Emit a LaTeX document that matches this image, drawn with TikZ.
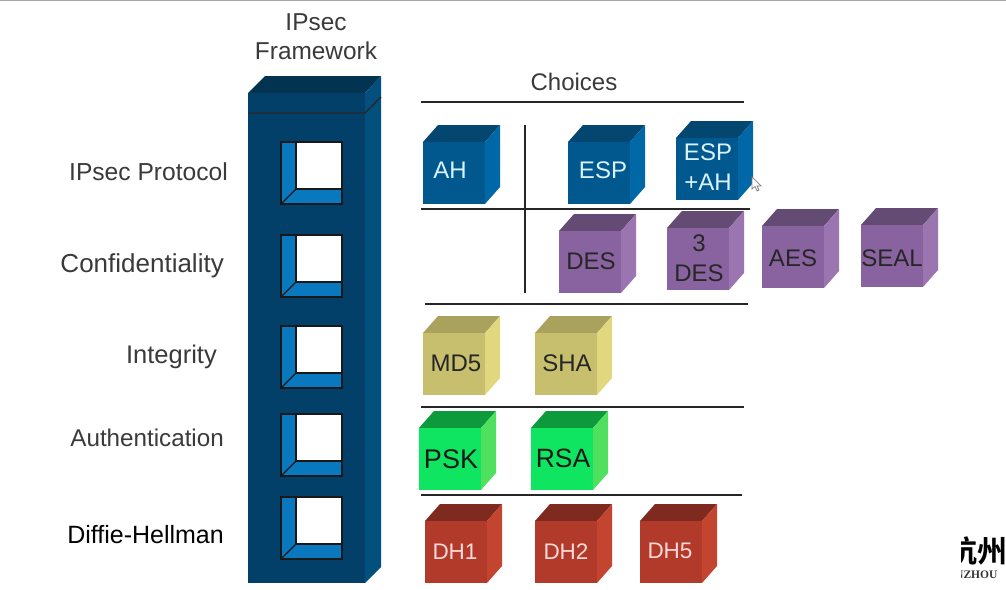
\documentclass[tikz,border=0pt]{standalone}
\usepackage{fontspec}
\setmainfont{Liberation Sans}
\newfontfamily\cjkfont{Noto Sans CJK SC}[BoldFont={Noto Sans CJK SC Bold}]
\newfontfamily\serifont{Liberation Serif}
\definecolor{colF}{HTML}{024069}
\definecolor{colT}{HTML}{023350}
\definecolor{colS}{HTML}{034F7E}
\definecolor{winB}{HTML}{0A78BE}
\definecolor{bluF}{HTML}{01588F}
\definecolor{bluT}{HTML}{03466F}
\definecolor{bluS}{HTML}{0168A8}
\definecolor{purF}{HTML}{89639F}
\definecolor{purT}{HTML}{634B73}
\definecolor{purS}{HTML}{9B75B0}
\definecolor{yelF}{HTML}{C8BF6E}
\definecolor{yelT}{HTML}{A9A25C}
\definecolor{yelS}{HTML}{E0D77F}
\definecolor{grnF}{HTML}{0FE561}
\definecolor{grnT}{HTML}{0C9A3C}
\definecolor{grnS}{HTML}{50E060}
\definecolor{redF}{HTML}{B23A2A}
\definecolor{redT}{HTML}{7E2A1E}
\definecolor{redS}{HTML}{C4452F}
\definecolor{txtG}{HTML}{3A3A3A}
\tikzset{
  x=1pt,y=-1pt,
  facebox/.style={anchor=north west,inner sep=0pt,outer sep=0pt,minimum width=62pt,minimum height=62pt},
  facetext/.style={inner sep=0pt,align=center,font=\fontsize{24}{30}\selectfont},
  rowlabel/.style={text=txtG,inner sep=0pt},
  rule/.style={draw=black!85,line width=1.4pt},
  winframe/.style={draw=black!90,line width=1.3pt},
}
% name, x, y, front fill, top fill, side fill, text colour, text, text centre
\newcommand{\cubebox}[9]{%
  \fill[#5] (#2,#3) -- ++(15,-17) -- ++(62,0) -- ++(-15,17) -- cycle;
  \fill[#6] (#2+62,#3) -- ++(15,-17) -- ++(0,62) -- ++(-15,17) -- cycle;
  \node[facebox,fill=#4] (#1) at (#2,#3) {};
  \node[facetext,text=#7] (#1t) at (#9) {#8};
}
% name, y
\newcommand{\winbox}[2]{%
  \fill[winB] (281,#2) rectangle (342,#2+62);
  \fill[white] (296,#2) rectangle (342,#2+47);
  \draw[winframe] (296,#2) -- (296,#2+47) -- (342,#2+47);
  \draw[winframe] (296,#2+47) -- (281,#2+62);
  \node[draw=black!90,line width=1.3pt,anchor=north west,inner sep=0pt,outer sep=0pt,minimum width=61pt,minimum height=62pt] (#1) at (281,#2) {};
}
\begin{document}
\begin{tikzpicture}
\useasboundingbox (0,0) rectangle (1006,589);
\fill[white] (0,0) rectangle (1006,589);
\draw[black!35,line width=.8pt] (0,0.4) -- (1006,0.4);

% Framework column
\fill[colT] (248,93) -- (265,76) -- (381,76) -- (365,93) -- cycle;
\fill[colS] (365,93) -- (381,76) -- (381,567) -- (365,583) -- cycle;
\node[anchor=north west,inner sep=0pt,outer sep=0pt,minimum width=117pt,minimum height=490pt,fill=colF] (column) at (248,93) {};
\draw[black!85,line width=1.2pt] (248,113) -- (365,113) -- (381,97);

\winbox{w1}{142}
\winbox{w2}{235}
\winbox{w3}{326}
\winbox{w4}{414}
\winbox{w5}{497}

% Titles and row labels
\node[text=txtG,align=center,inner sep=0pt,font=\fontsize{24.4}{29}\selectfont] (title) at (316,37) {IPsec\\Framework};
\node[text=txtG,inner sep=0pt,font=\fontsize{24}{26}\selectfont] (choices) at (574,82) {Choices};
\node[rowlabel,anchor=east,font=\fontsize{24.6}{28}\selectfont] (l1) at (228,172) {IPsec Protocol};
\node[rowlabel,anchor=east,font=\fontsize{26}{28}\selectfont] (l2) at (224,266) {Confidentiality};
\node[rowlabel,anchor=east,font=\fontsize{25.5}{28}\selectfont] (l3) at (217,357) {Integrity};
\node[rowlabel,anchor=east,font=\fontsize{24.2}{28}\selectfont] (l4) at (224,438) {Authentication};
\node[anchor=east,inner sep=0pt,text=black,font=\fontsize{25}{28}\selectfont] (l5) at (224,535) {Diffie-Hellman};

% Rules
\coordinate (r1a) at (421,102); \coordinate (r1b) at (744,102);
\coordinate (r2a) at (421,209); \coordinate (r2b) at (750,209);
\coordinate (r3a) at (425,304); \coordinate (r3b) at (748,304);
\coordinate (r4a) at (421,407); \coordinate (r4b) at (744,407);
\coordinate (r5a) at (421,495); \coordinate (r5b) at (742,495);
\coordinate (va) at (525,125); \coordinate (vb) at (525,293);
\draw[rule] (r1a) -- (r1b);
\draw[rule] (r2a) -- (r2b);
\draw[rule] (r3a) -- (r3b);
\draw[rule] (r4a) -- (r4b);
\draw[rule] (r5a) -- (r5b);
\draw[rule] (va) -- (vb);

% Cubes
\cubebox{ah}{423}{142}{bluF}{bluT}{bluS}{white!85!cyan}{AH}{450,170}
\cubebox{esp}{568}{142}{bluF}{bluT}{bluS}{white!85!cyan}{ESP}{603,170}
\cubebox{espah}{676}{138}{bluF}{bluT}{bluS}{white!85!cyan}{ESP\\+AH}{708,167}
\cubebox{des}{559}{231}{purF}{purT}{purS}{black!85}{DES}{591,261}
\cubebox{tdes}{667}{228}{purF}{purT}{purS}{black!85}{3\\DES}{699,258}
\cubebox{aes}{762}{226}{purF}{purT}{purS}{black!85}{AES}{793,258}
\cubebox{seal}{861}{225}{purF}{purT}{purS}{black!85}{SEAL}{892,258}
\cubebox{md5}{423}{333}{yelF}{yelT}{yelS}{black!85}{MD5}{456,363}
\cubebox{sha}{535}{333}{yelF}{yelT}{yelS}{black!85}{SHA}{567,363}
\cubebox{psk}{419}{428}{grnF}{grnT}{grnS}{black!90}{\fontsize{27}{30}\selectfont PSK}{451,459}
\cubebox{rsa}{531}{428}{grnF}{grnT}{grnS}{black!90}{\fontsize{26.5}{30}\selectfont RSA}{563,458}
\cubebox{dh1}{425}{521}{redF}{redT}{redS}{white!85!red}{\fontsize{22.5}{30}\selectfont DH1}{455,552}
\cubebox{dh2}{535}{521}{redF}{redT}{redS}{white!85!red}{\fontsize{22.5}{30}\selectfont DH2}{566,552}
\cubebox{dh5}{640}{521}{redF}{redT}{redS}{white!85!red}{\fontsize{22.5}{30}\selectfont DH5}{670,551}

% Mouse pointer
\draw[black!50,fill=white,line width=.7pt] (752,177) -- (752,189) -- (755,186.5) -- (757,191) -- (759,190) -- (757,186) -- (761,186) -- cycle;

% Clipped logo
\begin{scope}
\clip (961,530) rectangle (1006,589);
\node[anchor=west,inner sep=0pt,text=black,font=\cjkfont\bfseries\fontsize{30}{30}\selectfont] (logo) at (947,551) {杭州};
\node[anchor=west,inner sep=0pt,text=black!80,font=\serifont\bfseries\fontsize{11.5}{12}\selectfont] (logob) at (955,575) {NZHOU};
\end{scope}
\end{tikzpicture}
\end{document}
